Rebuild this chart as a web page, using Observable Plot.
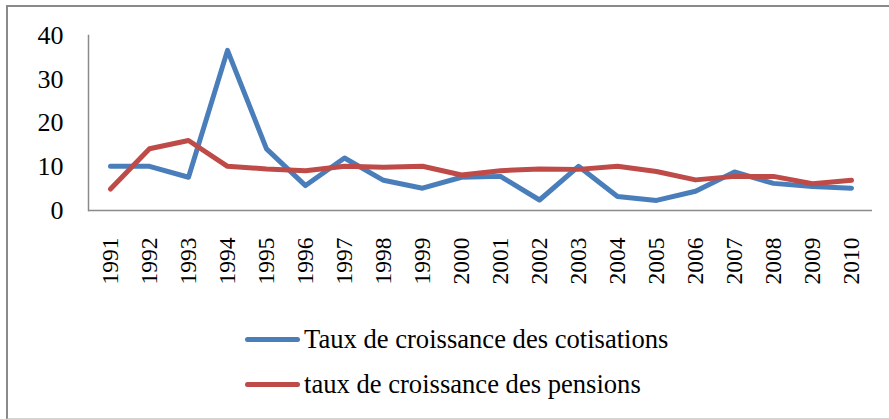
<!DOCTYPE html>
<html>
<head>
<meta charset="utf-8">
<script src="https://cdn.jsdelivr.net/npm/d3@7"></script>
<script src="https://cdn.jsdelivr.net/npm/@observablehq/plot@0.6"></script>
<style>
  html, body { margin: 0; padding: 0; background: #fff; }
  #wrap { position: relative; width: 889px; height: 419px; overflow: hidden; font-family: "Liberation Serif", "Times New Roman", serif; }
  #frame { position: absolute; left: 6px; top: 5px; width: 900px; height: 411px; border-left: 2px solid #8a8a8a; border-top: 2px solid #8a8a8a; border-bottom: 2px solid #d4d4d4; }
  #chart { position: absolute; left: 0; top: 0; }
  .leg { position: absolute; left: 245px; height: 30px; display: flex; align-items: center; font-size: 26.6px; color: #000; white-space: nowrap; }
  .leg .sw { width: 55px; height: 5px; border-radius: 3px; margin-right: 4px; }
</style>
</head>
<body>
<div id="wrap">
  <div id="frame"></div>
  <div id="chart"></div>
  <div class="leg" id="leg1" style="top:324px"><span class="sw" style="background:#4a7ebb"></span><span id="l1"></span></div>
  <div class="leg" id="leg2" style="top:369px"><span class="sw" style="background:#be4b48"></span><span id="l2"></span></div>
</div>
<script>
const years = ["1991","1992","1993","1994","1995","1996","1997","1998","1999","2000","2001","2002","2003","2004","2005","2006","2007","2008","2009","2010"];
const cotisations = [10.1, 10.1, 7.6, 36.6, 14.1, 5.7, 12.0, 6.9, 5.1, 7.6, 7.8, 2.4, 10.1, 3.2, 2.3, 4.4, 8.8, 6.2, 5.5, 5.1];
const pensions = [4.9, 14.1, 16.0, 10.1, 9.5, 9.1, 10.1, 9.9, 10.1, 8.1, 9.1, 9.5, 9.4, 10.1, 8.9, 7.0, 7.8, 7.8, 6.1, 6.9];
const seriesNames = ["Taux de croissance des cotisations", "taux de croissance des pensions"];
const seriesColors = ["#4a7ebb", "#be4b48"];
const yTicks = [0, 10, 20, 30, 40];

const data = [];
years.forEach((y, i) => {
  data.push({year: y, value: cotisations[i], series: seriesNames[0]});
});
years.forEach((y, i) => {
  data.push({year: y, value: pensions[i], series: seriesNames[1]});
});

const chart = Plot.plot({
  width: 889,
  height: 300,
  marginLeft: 88,
  marginRight: 17,
  marginTop: 35,
  marginBottom: 90,
  style: {fontFamily: "'Liberation Serif', 'Times New Roman', serif", fontSize: "24px", color: "#000", background: "transparent"},
  x: {type: "point", domain: years, padding: 0.5, label: null},
  y: {domain: [0, 40], label: null},
  color: {domain: seriesNames, range: seriesColors},
  marks: [
    Plot.axisY({ticks: yTicks, tickSize: 0, tickPadding: 25, label: null, fontSize: 26}),
    Plot.axisX({tickSize: 0, tickRotate: -90, tickPadding: 27, label: null, fontSize: 23.5}),
    Plot.frame({anchor: "left", stroke: "#8a8a8a", strokeWidth: 1.5}),
    Plot.ruleY([0], {stroke: "#8a8a8a", strokeWidth: 1.5}),
    Plot.line(data, {x: "year", y: "value", z: "series", stroke: "series", strokeWidth: 5, strokeLinejoin: "round", strokeLinecap: "round"})
  ]
});
document.getElementById("chart").appendChild(chart);
document.getElementById("l1").textContent = seriesNames[0];
document.getElementById("l2").textContent = seriesNames[1];
</script>
</body>
</html>
